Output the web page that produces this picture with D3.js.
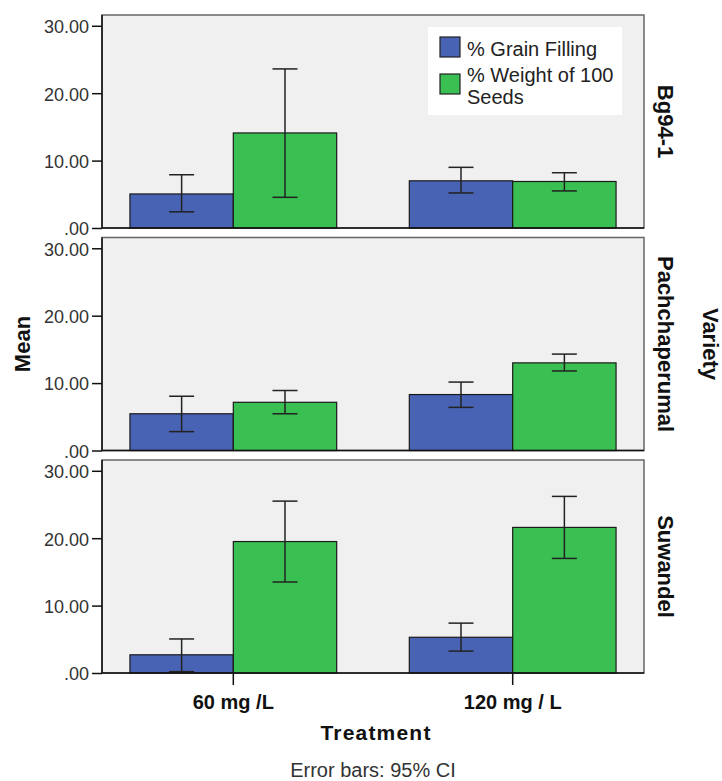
<!DOCTYPE html>
<html>

<head>
  <title>Grain filling and seed weight by treatment</title>
  <script src="https://cdn.jsdelivr.net/npm/d3@7/dist/d3.min.js"></script>
  <style>
    body { margin: 0; background: #fff; }
    text { font-family: "Liberation Sans", Arial, sans-serif; }
  </style>
</head>

<body>
  <script>

    // data (means and 95% CI), one entry per variety x treatment
    const treatments = ["60 mg /L", "120 mg / L"];
    const varieties = ["Bg94-1", "Pachchaperumal", "Suwandel"];
    const seriesNames = ["% Grain Filling", "% Weight of 100 Seeds"];
    const seriesColors = ["#4862b4", "#3abf52"];
    const yTicks = [0, 10, 20, 30];

    // order: Bg94-1 60, Bg94-1 120, Pachch 60, Pachch 120, Suwandel 60, Suwandel 120
    const grainMean = [5.05, 7.0, 5.45, 8.3, 2.7, 5.3];
    const grainLow = [2.4, 5.2, 2.8, 6.4, 0.2, 3.25];
    const grainHigh = [7.9, 9.0, 8.05, 10.15, 5.05, 7.4];

    const weightMean = [14.1, 6.9, 7.15, 13.0, 19.5, 21.6];
    const weightLow = [4.55, 5.5, 5.45, 11.8, 13.5, 17.0];
    const weightHigh = [23.6, 8.2, 8.9, 14.3, 25.5, 26.2];

    const width = 722;
    const height = 781;

    // panel layout
    const left = 102, right = 644;
    const panelTop = 15, panelH = 213, gap = 9.5;

    const svg = d3.select("body").append("svg")
      .attr("width", width)
      .attr("height", height);

    // build rows from the arrays
    const rows = [];
    varieties.forEach((v, vi) => {
      treatments.forEach((t, ti) => {
        const i = vi * treatments.length + ti;
        rows.push({ variety: v, treatment: t, series: seriesNames[0], mean: grainMean[i], low: grainLow[i], high: grainHigh[i] });
        rows.push({ variety: v, treatment: t, series: seriesNames[1], mean: weightMean[i], low: weightLow[i], high: weightHigh[i] });
      });
    });

    const x = d3.scaleBand()
      .domain(treatments)
      .range([left, right])
      .paddingInner(0.26)
      .paddingOuter(0.1);

    const xs = d3.scaleBand()
      .domain(seriesNames)
      .range([0, x.bandwidth()]);

    const color = d3.scaleOrdinal()
      .domain(seriesNames)
      .range(seriesColors);

    const tickFmt = v => v === 0 ? ".00" : d3.format(".2f")(v);

    varieties.forEach((v, vi) => {
      const y0 = panelTop + vi * (panelH + gap);
      const y = d3.scaleLinear()
        .domain([0, 31.6])
        .range([y0 + panelH, y0]);

      const g = svg.append("g");

      // panel background
      g.append("rect")
        .attr("x", left)
        .attr("y", y0)
        .attr("width", right - left)
        .attr("height", panelH)
        .style("fill", "#f0f0f0")
        .style("stroke", "#666")
        .style("stroke-width", 1.5);

      // bars
      const data = rows.filter(d => d.variety === v);
      g.selectAll("rect.bar")
        .data(data)
        .enter()
        .append("rect")
        .attr("class", "bar")
        .attr("x", d => x(d.treatment) + xs(d.series))
        .attr("y", d => y(d.mean))
        .attr("width", xs.bandwidth())
        .attr("height", d => y(0) - y(d.mean))
        .style("fill", d => color(d.series))
        .style("stroke", "#1a1a1a")
        .style("stroke-width", 1.2);

      // error bars
      const cap = 12.5;
      const eb = g.selectAll("g.err")
        .data(data)
        .enter()
        .append("g")
        .attr("class", "err")
        .style("stroke", "#222")
        .style("stroke-width", 1.5);

      eb.append("line")
        .attr("x1", d => x(d.treatment) + xs(d.series) + xs.bandwidth() / 2)
        .attr("x2", d => x(d.treatment) + xs(d.series) + xs.bandwidth() / 2)
        .attr("y1", d => y(d.low))
        .attr("y2", d => y(d.high));
      ["low", "high"].forEach(k => {
        eb.append("line")
          .attr("x1", d => x(d.treatment) + xs(d.series) + xs.bandwidth() / 2 - cap)
          .attr("x2", d => x(d.treatment) + xs(d.series) + xs.bandwidth() / 2 + cap)
          .attr("y1", d => y(d[k]))
          .attr("y2", d => y(d[k]));
      });

      // y axis
      const yAxis = g.append("g")
        .attr("transform", `translate(${left},0)`)
        .call(d3.axisLeft(y).tickValues(yTicks).tickFormat(tickFmt).tickSize(10).tickPadding(3));
      yAxis.select(".domain").attr("d", `M0,${y0}V${y0 + panelH}`).style("stroke", "#111").style("stroke-width", 1.5);
      yAxis.selectAll(".tick line").style("stroke", "#111").style("stroke-width", 1.5);
      yAxis.selectAll(".tick text")
        .attr("dy", "0.38em")
        .style("font-size", "18px")
        .style("font-family", '"Liberation Sans", Arial, sans-serif')
        .style("fill", "#333");

      // bottom line of the panel
      g.append("line")
        .attr("x1", left)
        .attr("x2", right)
        .attr("y1", y(0))
        .attr("y2", y(0))
        .style("stroke", "#111")
        .style("stroke-width", 1.5);

      // variety strip label on the right
      g.append("text")
        .attr("transform", `translate(${right + 14},${y0 + panelH / 2}) rotate(90)`)
        .style("text-anchor", "middle")
        .style("font-size", "22px")
        .style("font-weight", "bold")
        .style("fill", "#111")
        .text(v);

      // x axis on the last panel
      if (vi === varieties.length - 1) {
        const xAxis = g.append("g")
          .attr("transform", `translate(0,${y(0)})`)
          .call(d3.axisBottom(x).tickSize(12).tickPadding(10));
        xAxis.select(".domain").remove();
        xAxis.selectAll(".tick line").style("stroke", "#111").style("stroke-width", 1.5);
        xAxis.selectAll(".tick text")
          .style("font-size", "20px")
          .style("font-weight", "bold")
          .style("font-family", '"Liberation Sans", Arial, sans-serif')
          .style("fill", "#111");
      }
    });

    // legend inside the top panel
    const legend = svg.append("g");
    legend.append("rect")
      .attr("x", 428)
      .attr("y", 27)
      .attr("width", 194)
      .attr("height", 88)
      .style("fill", "#fff");

    const legendMaxW = 150;
    const lineH = 21.5;
    let ly = 37;
    seriesNames.forEach(s => {
      legend.append("rect")
        .attr("x", 440)
        .attr("y", ly)
        .attr("width", 20)
        .attr("height", 20)
        .style("fill", color(s))
        .style("stroke", "#222")
        .style("stroke-width", 1.2);

      // wrap the label to the legend width
      const t = legend.append("text")
        .attr("x", 467)
        .style("font-size", "20px")
        .style("fill", "#222");
      const words = s.split(" ");
      let line = [];
      let tspan = t.append("tspan").attr("x", 467);
      let lines = 1;
      words.forEach(w => {
        line.push(w);
        tspan.text(line.join(" "));
        if (tspan.node().getComputedTextLength() > legendMaxW && line.length > 1) {
          line.pop();
          tspan.text(line.join(" "));
          line = [w];
          tspan = t.append("tspan").attr("x", 467).attr("dy", lineH).text(w);
          lines++;
        }
      });
      // centre the text block on the swatch
      t.attr("y", ly + 10 + 9 - (lines - 1) * lineH / 2);
      ly += 37;
    });

    // axis titles
    svg.append("text")
      .attr("transform", `translate(30,${panelTop + 1.5 * panelH + gap}) rotate(-90)`)
      .style("text-anchor", "middle")
      .style("font-size", "22px")
      .style("font-weight", "bold")
      .style("fill", "#111")
      .text("Mean");

    svg.append("text")
      .attr("transform", `translate(703,${panelTop + 1.5 * panelH + gap}) rotate(90)`)
      .style("text-anchor", "middle")
      .style("font-size", "22px")
      .style("font-weight", "bold")
      .style("fill", "#111")
      .text("Variety");

    svg.append("text")
      .attr("x", (left + right) / 2 + 3)
      .attr("y", 740)
      .style("text-anchor", "middle")
      .style("font-size", "21px")
      .style("font-weight", "bold")
      .style("letter-spacing", "1.2px")
      .style("fill", "#111")
      .text("Treatment");

    svg.append("text")
      .attr("x", (left + right) / 2)
      .attr("y", 777)
      .style("text-anchor", "middle")
      .style("font-size", "20px")
      .style("fill", "#333")
      .text("Error bars: 95% CI");

  </script>
</body>

</html>
